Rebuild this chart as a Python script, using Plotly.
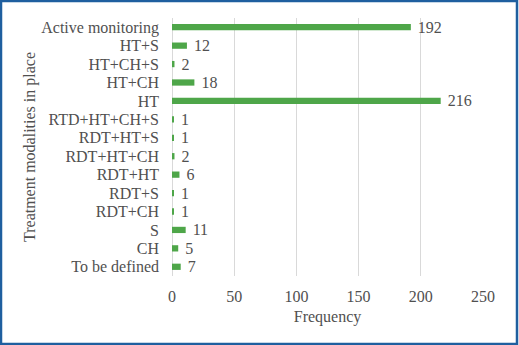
import plotly.graph_objects as go

categories = ["Active monitoring", "HT+S", "HT+CH+S", "HT+CH", "HT",
              "RTD+HT+CH+S", "RDT+HT+S", "RDT+HT+CH", "RDT+HT", "RDT+S",
              "RDT+CH", "S", "CH", "To be defined"]
values = [192, 12, 2, 18, 216, 1, 1, 2, 6, 1, 1, 11, 5, 7]
x_ticks = [0, 50, 100, 150, 200, 250]

W, H = 519, 345
L, R, T, B = 172, 36, 18, 69
pw, ph = W - L - R, H - T - B

font_family = "Liberation Serif"
text_color = "#505050"
fs = 16

fig = go.Figure(go.Bar(
    y=categories, x=values, orientation="h",
    marker=dict(color="#4ea649", line=dict(width=0)),
    width=0.34,
    texttemplate="\u00a0%{x}", textposition="outside",
    constraintext="none",
    textfont=dict(family=font_family, size=fs, color=text_color),
    cliponaxis=False,
))

fig.update_layout(
    width=W, height=H,
    margin=dict(l=L, r=R, t=T, b=B),
    paper_bgcolor="white", plot_bgcolor="white",
    showlegend=False,
    font=dict(family=font_family, size=fs, color=text_color),
    xaxis=dict(range=[0, 250], tickmode="array", tickvals=x_ticks, showgrid=True,
               gridcolor="#d9d9d9", gridwidth=1, zeroline=True,
               zerolinecolor="#d9d9d9", zerolinewidth=1, showline=False,
               ticks="", ticklabelstandoff=9,
               title=dict(text="Frequency", standoff=6,
                          font=dict(family=font_family, size=fs, color=text_color)),
               tickfont=dict(family=font_family, size=fs, color=text_color)),
    yaxis=dict(categoryorder="array", categoryarray=categories[::-1],
               tickmode="array", tickvals=categories, ticktext=categories,
               showgrid=False, showline=False, ticks="",
               ticklabelstandoff=12,
               title=dict(text="Treatment modalities in place", standoff=1,
                          font=dict(family=font_family, size=fs, color=text_color)),
               tickfont=dict(family=font_family, size=fs, color=text_color)),
)

# outer frame border of the image
fig.add_shape(type="rect", xref="paper", yref="paper",
              x0=(1 - L) / pw, x1=(W - 2 - L) / pw,
              y0=(1 - B) / ph, y1=(H - 1 - B) / ph,
              line=dict(color="#1f5f9f", width=2.5), layer="above")

fig.write_html("out.html")
